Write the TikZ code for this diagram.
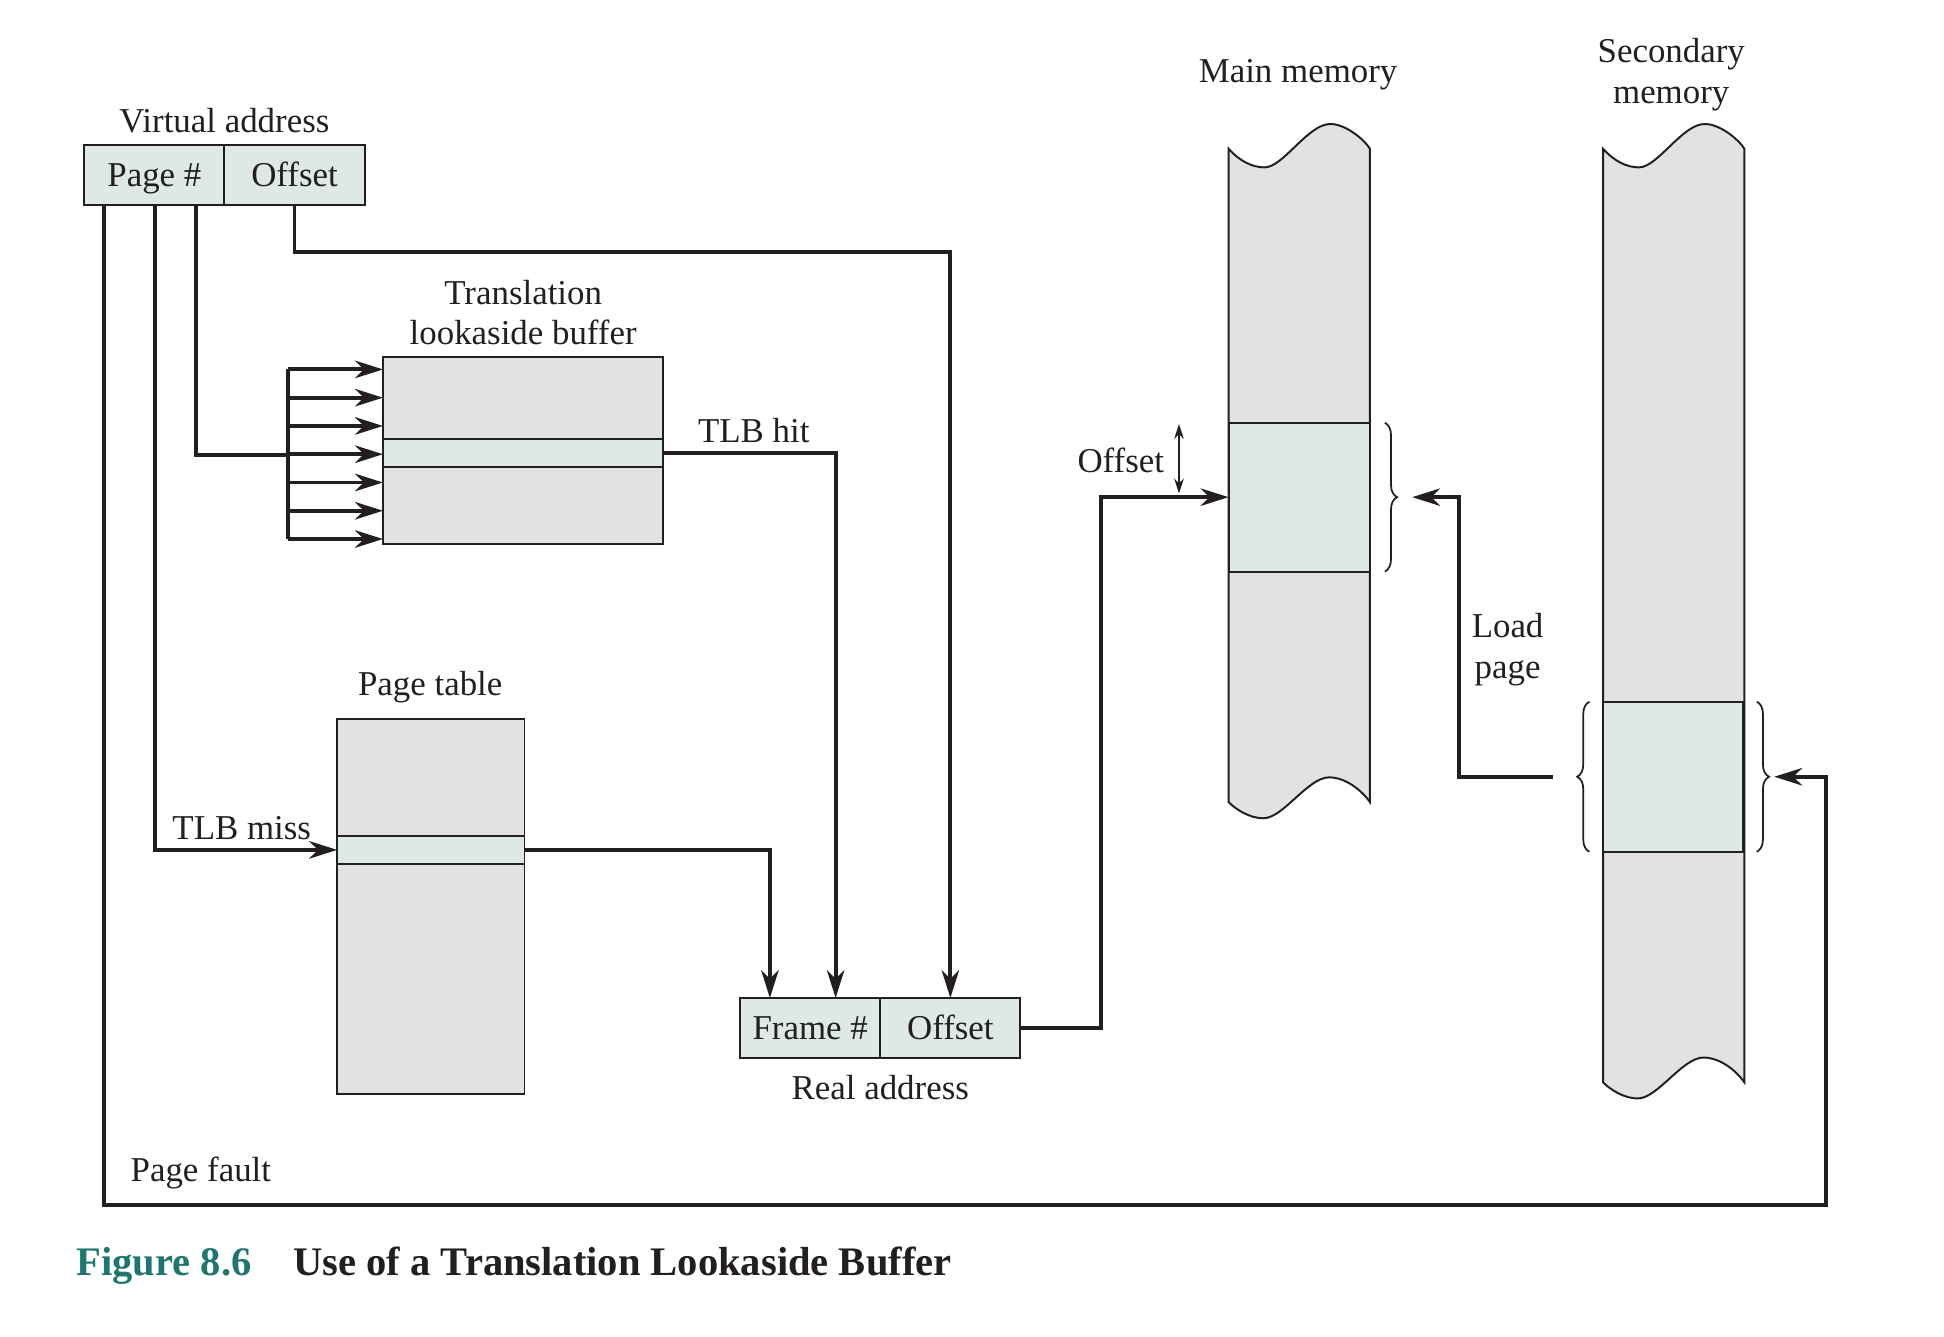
\documentclass[tikz,border=0pt]{standalone}
\usepackage{fontspec}
\setmainfont{Liberation Serif}
\usetikzlibrary{arrows.meta,calc,decorations.pathreplacing}
\definecolor{memgray}{RGB}{226,226,225}
\definecolor{pagebg}{RGB}{222,232,229}
\definecolor{ink}{RGB}{35,31,32}
\definecolor{figteal}{RGB}{31,118,110}

\begin{document}
\begin{tikzpicture}[x=0.01cm,y=-0.01cm,
    txt/.style={font=\fontsize{8}{9.3}\selectfont, text=ink, inner sep=0pt, align=center},
    field/.style={draw=ink, line width=0.45pt, fill=pagebg, inner sep=0pt, outer sep=0pt,
      minimum width=1.13cm, minimum height=0.48cm, text height=1.6ex, text depth=0.45ex,
      font=\fontsize{8}{9.3}\selectfont, text=ink},
    tbl/.style={draw=ink, line width=0.45pt, fill=memgray, inner sep=0pt, outer sep=0pt},
    entry/.style={draw=ink, line width=0.45pt, fill=pagebg, inner sep=0pt, outer sep=0pt, minimum height=0.23cm},
    conn/.style={draw=ink, line width=0.9pt, -{Stealth[length=6.4pt,width=4pt,inset=2pt]}},
    wire/.style={draw=ink, line width=0.9pt},
    brc/.style={draw=ink, line width=0.4pt, decorate, decoration={brace,amplitude=2.8pt}},
    caption/.style={anchor=base west, inner sep=0pt, font=\bfseries\fontsize{9.3}{11}\selectfont}]

  \useasboundingbox (0,0) rectangle (1568,1078);

  % virtual address
  \node[field] (va_page) at (124.5,141) {Page \#};
  \node[field, anchor=west] (va_off) at (va_page.east) {Offset};
  \node[txt] (va_lbl) at (181,97) {Virtual address};

  % TLB
  \node[tbl, minimum width=2.26cm, minimum height=1.51cm] (tlb) at (422,363.5) {};
  \node[entry, minimum width=2.26cm] (tlb_row) at (422,365.5) {};
  \node[txt] (tlb_lbl) at (422,252) {Translation\\lookaside buffer};

  % page table
  \node[tbl, minimum width=1.51cm, minimum height=3.02cm] (pt) at (347.5,731) {};
  \node[entry, minimum width=1.51cm] (pt_row) at (347.5,685.5) {};
  \node[txt] (pt_lbl) at (347,554) {Page table};

  % real address
  \node[field] (ra_frame) at (653.5,829) {Frame \#};
  \node[field, anchor=west] (ra_off) at (ra_frame.east) {Offset};
  \node[txt] (ra_lbl) at (710,877) {Real address};

  % memory columns
  \foreach \x/\b in {991/647,1293/873}
    \filldraw[fill=memgray, draw=ink, line width=0.45pt]
      (\x,120) .. controls ({\x+9},130) and ({\x+19},135) .. ({\x+29},135)
      .. controls ({\x+44},135) and ({\x+64},100) .. ({\x+82},100)
      .. controls ({\x+94},100) and ({\x+109},112) .. ({\x+114},120)
      -- ({\x+114},\b)
      .. controls ({\x+107},{\b-10}) and ({\x+94},{\b-20}) .. ({\x+81},{\b-20})
      .. controls ({\x+64},{\b-20}) and ({\x+44},{\b+13}) .. ({\x+28},{\b+13})
      .. controls ({\x+17},{\b+13}) and ({\x+6},{\b+6}) .. (\x,\b) -- cycle;
  \node[entry, minimum width=1.14cm, minimum height=1.2cm] (mm_page) at (1048,401) {};
  \node[entry, minimum width=1.13cm, minimum height=1.21cm] (sm_page) at (1349.5,626.5) {};
  \node[txt] (mm_lbl) at (1047,60) {Main memory};
  \node[txt] (sm_lbl) at (1348,60) {Secondary\\memory};

  \draw[brc] ($(mm_page.north east)+(12,0)$) -- ($(mm_page.south east)+(12,0)$);
  \draw[brc] ($(sm_page.north east)+(11,0)$) -- ($(sm_page.south east)+(11,0)$);
  \draw[brc] ($(sm_page.south west)+(-11,0)$) -- ($(sm_page.north west)+(-11,0)$);

  % offset straight through
  \draw[conn] (va_off.south) -- ++(0,38) -| (ra_off.north);

  % page number into the TLB
  \coordinate (bus) at ($(tlb.north west)+(-77,79)$);
  \draw[wire] ($(va_page.south west)+(90,0)$) |- (bus);
  \draw[wire] ($(tlb.north west)+(-77,10)$) -- ($(tlb.north west)+(-77,146.8)$);
  \foreach \i in {0,...,6}{
    \path ($(tlb.north west)+(0,{10+22.8*\i})$) coordinate (tin);
    \draw[conn] (bus |- tin) -- (tin);
  }

  % TLB hit
  \draw[conn] (tlb_row.east) -| ($(ra_frame.north)+(20.5,0)$);
  \node[txt] (hit_lbl) at (608,347) {TLB hit};

  % TLB miss
  \draw[conn] ($(va_page.south west)+(57,0)$) |- (pt_row.west);
  \node[txt] (miss_lbl) at (195,668) {TLB miss};
  \draw[conn] (pt_row.east) -| ($(ra_frame.north)+(-32.5,0)$);

  % real address into main memory
  \draw[conn] (ra_off.east) -- ++(65,0) |- (mm_page.west);
  \draw[ink, line width=0.4pt, {Stealth[length=3.4pt,width=2.2pt]}-{Stealth[length=3.4pt,width=2.2pt]}]
    ($(mm_page.north west)+(-40,1)$) -- ($(mm_page.west)+(-40,-3)$);
  \node[txt] (off_lbl) at (904,371) {Offset};

  % load page
  \coordinate (load_from) at (1253,627);
  \draw[conn] (load_from) -- ++(-76,0) |- ($(mm_page.east)+(34,0)$);
  \node[txt] (load_lbl) at (1216,524) {Load\\page};

  % page fault
  \coordinate (pf_corner) at (1473,972);
  \draw[conn] ($(va_page.south west)+(16,0)$) |- (pf_corner) |- ($(sm_page.east)+(25,0)$);
  \node[txt] (pf_lbl) at (162,946) {Page fault};

  \node[caption, text=figteal] (cap_num) at (61,1029) {Figure 8.6};
  \node[caption, text=ink] (cap_txt) at (236,1029) {Use of a Translation Lookaside Buffer};
\end{tikzpicture}
\end{document}
